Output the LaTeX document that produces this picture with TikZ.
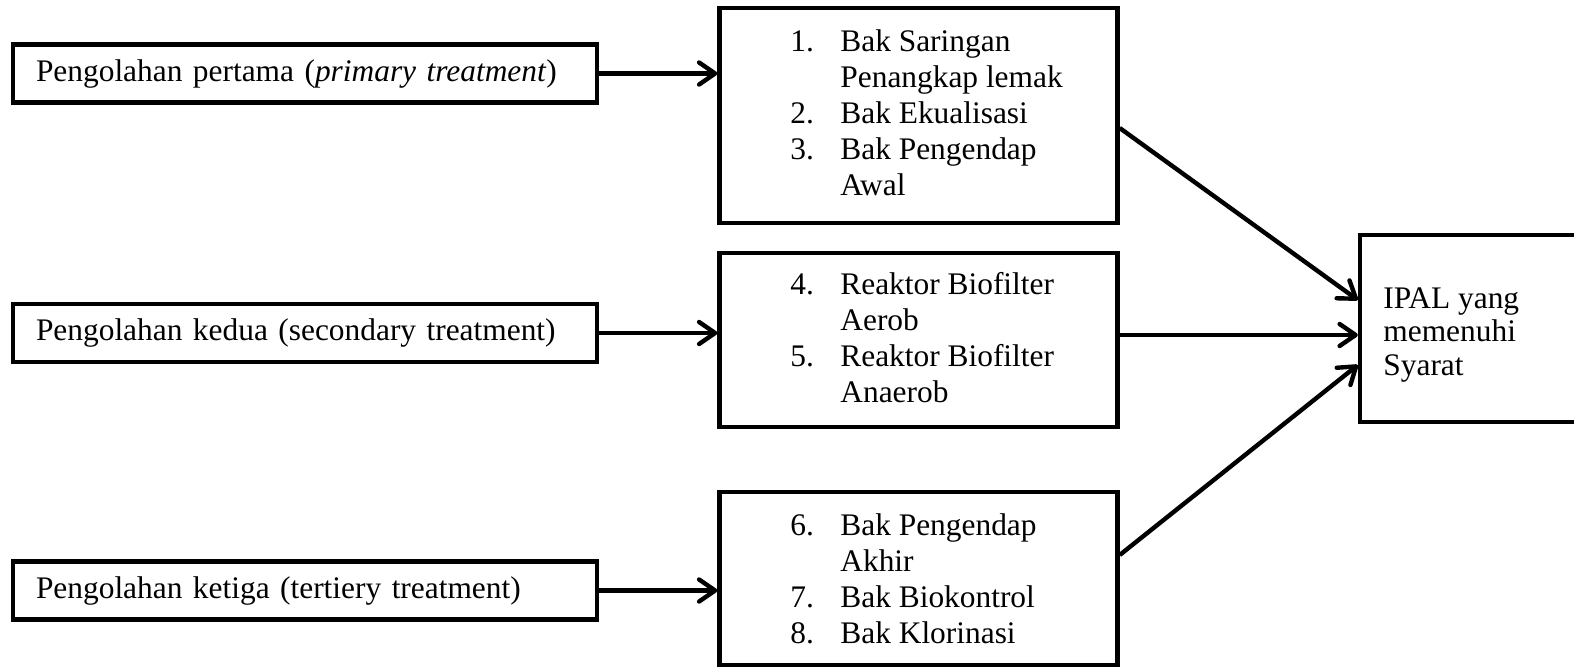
\documentclass[tikz,border=0pt]{standalone}
\usepackage{fontspec}
\setmainfont{Liberation Serif}
\usetikzlibrary{arrows.meta,calc}
\newcommand{\itm}[1]{\makebox[25pt][l]{#1}}
\newcommand{\ind}{\hspace*{25pt}}
\begin{document}
\begin{tikzpicture}[x=0.5pt,y=-0.5pt,
  every node/.style={font=\fontsize{15.7pt}{18pt}\selectfont},
  box/.style={draw=black,line width=2.2pt,rectangle,fill=white},
  leftbox/.style={box,minimum width=292pt,minimum height=29pt,text width=269pt,inner xsep=11.5pt,align=left},
  midbox/.style={box,minimum width=199pt},
  txt/.style={inner sep=0pt,align=left},
  arr/.style={line width=2.2pt,-{Straight Barb[length=8pt,width=11pt,round]}}]
\useasboundingbox (0,0) rectangle (1574,671);
\fill[white] (0,0) rectangle (1574,671);
% left boxes
\node[leftbox] (l1) at (305,73.5) {Pengolahan pertama (\textit{primary treatment})};
\node[leftbox] (l2) at (305,333) {Pengolahan kedua (secondary treatment)};
\node[leftbox] (l3) at (305,590.5) {Pengolahan ketiga (tertiery treatment)};
% middle boxes
\node[midbox,minimum height=107.5pt] (m1) at (918.5,115.5) {};
\node[midbox,minimum height=87pt] (m2) at (918.5,340) {};
\node[midbox,minimum height=86.5pt] (m3) at (918.5,578.5) {};
\node[txt,anchor=base west] (m1t) at (790,195) {\itm{1.}Bak Saringan\\\ind Penangkap lemak\\\itm{2.}Bak Ekualisasi\\\itm{3.}Bak Pengendap\\\ind Awal};
\node[txt,anchor=base west] (m2t) at (790,402) {\itm{4.}Reaktor Biofilter\\\ind Aerob\\\itm{5.}Reaktor Biofilter\\\ind Anaerob};
\node[txt,anchor=base west] (m3t) at (790,643) {\itm{6.}Bak Pengendap\\\ind Akhir\\\itm{7.}Bak Biokontrol\\\itm{8.}Bak Klorinasi};
% right box
\node[box,minimum width=120pt,minimum height=93.5pt] (r) at (1480,328.5) {};
\node[txt,anchor=base west,font=\fontsize{15.7pt}{16.75pt}\selectfont] (rt) at (1383,375) {IPAL yang\\memenuhi\\Syarat};
% arrows
\draw[arr] (l1.east) -- (l1.east -| m1.west);
\draw[arr] (l2.east) -- (l2.east -| m2.west);
\draw[arr] (l3.east) -- (l3.east -| m3.west);
\draw[arr] ([yshift=-6.25pt]m1.east) -- ([yshift=14.25pt]r.west);
\draw[arr] ([yshift=2.5pt]m2.east) -- ([yshift=-3.25pt]r.west);
\draw[arr] ([yshift=11.75pt]m3.east) -- ([yshift=-18.25pt]r.west);
\end{tikzpicture}
\end{document}
